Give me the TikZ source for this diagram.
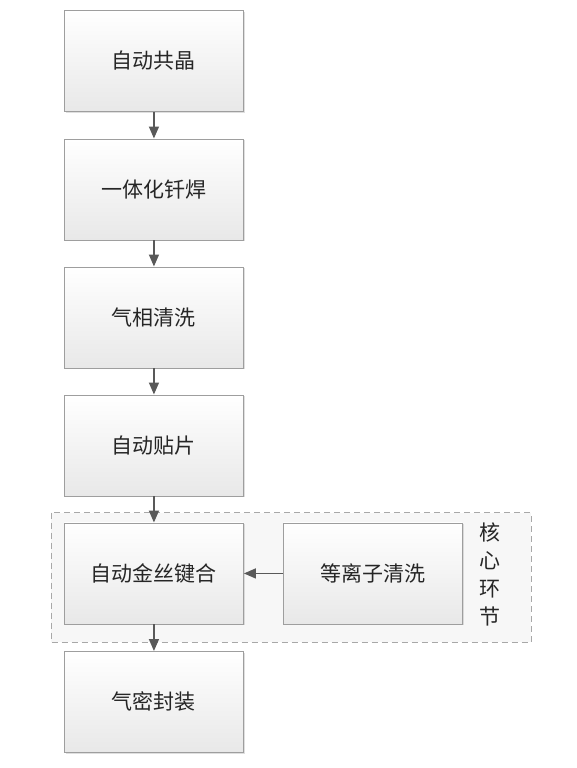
\documentclass[tikz,border=0pt]{standalone}
\usepackage{fontspec}
\newfontfamily\cjk{Noto Sans CJK SC}
\usetikzlibrary{arrows.meta,shadows}
\definecolor{boxline}{HTML}{9E9E9E}
\definecolor{arrowcol}{HTML}{595959}
\definecolor{dashcol}{HTML}{A8A8A8}
\definecolor{txt}{HTML}{262626}
\tikzset{
  procbox/.style={draw=boxline, line width=0.9pt, top color=white, bottom color=black!9,
    minimum width=179pt, minimum height=101pt, inner sep=0pt, anchor=north west,
    font=\cjk\fontsize{21}{25}\selectfont, text=txt,
    drop shadow={shadow xshift=1.5pt, shadow yshift=-1.5pt, fill=black!25, opacity=0.5}},
  flow/.style={draw=arrowcol, line width=1.5pt, -{Triangle[length=12pt,width=10pt]}},
}
\begin{document}
\begin{tikzpicture}[x=1pt,y=-1pt]
\useasboundingbox (0,0) rectangle (577,768);
% core group
\draw[dashcol, fill=black!3, line width=0.9pt, dash pattern=on 6pt off 4pt] (51,512.5) rectangle (531,642);
\node (core) at (490,574) [font=\cjk\fontsize{21}{28}\selectfont, text=txt, align=center] {核\\心\\环\\节};
% boxes
\node[procbox] (b1) at (64,10) {自动共晶};
\node[procbox] (b2) at (64,138.5) {一体化钎焊};
\node[procbox] (b3) at (64,266.5) {气相清洗};
\node[procbox] (b4) at (64,394.5) {自动贴片};
\node[procbox] (b5) at (64,522.5) {自动金丝键合};
\node[procbox] (b7) at (283,522.5) {等离子清洗};
\node[procbox] (b6) at (64,651) {气密封装};
% connectors
\draw[flow] (b1.south) -- (b2.north);
\draw[flow] (b2.south) -- (b3.north);
\draw[flow] (b3.south) -- (b4.north);
\draw[flow] (b4.south) -- (b5.north);
\draw[flow] (b5.south) -- (b6.north);
\draw[flow] (b7.west) -- (b5.east);
\end{tikzpicture}
\end{document}
